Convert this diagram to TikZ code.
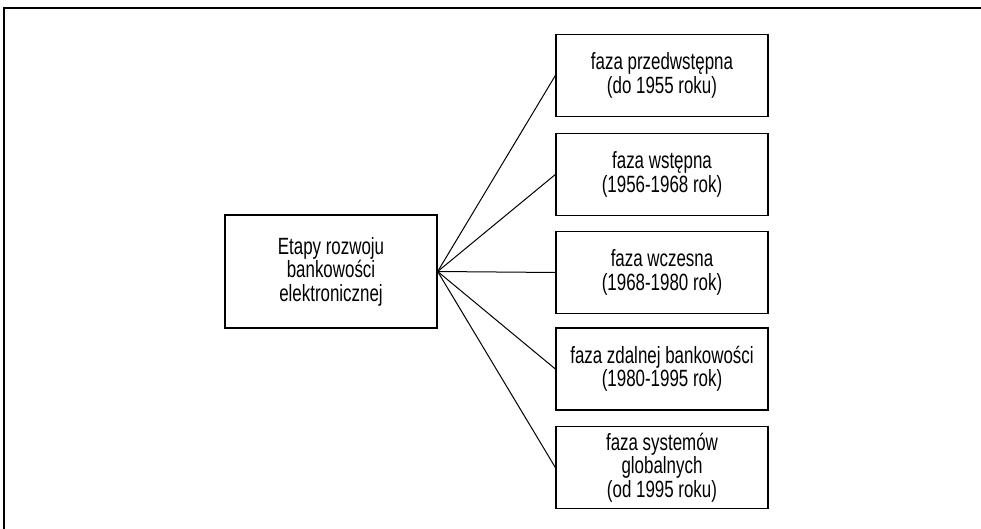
\documentclass[tikz,border=0pt]{standalone}
\usepackage{fontspec}
\setmainfont[FakeStretch=0.72]{Liberation Sans}
\begin{document}
\begin{tikzpicture}[x=1pt,y=-1pt,
  box/.style={draw=black,line width=1.3pt,align=center,inner sep=0pt,font=\fontsize{23.5}{23.5}\selectfont},
  phase/.style={box,minimum width=212pt,minimum height=82pt},
  link/.style={draw=black,line width=1pt}]
\useasboundingbox (0,0) rectangle (981,529);
\draw[line width=1.3pt] (4,530) -- (4,8) -- (982,8);
\node[box,minimum width=212pt,minimum height=113pt] (main) at (331,271.5) {Etapy rozwoju\\bankowości\\elektronicznej};
\node[phase] (p1) at (662,75.5) {faza przedwstępna\\(do 1955 roku)};
\node[phase] (p2) at (662,174.5) {faza wstępna\\(1956-1968 rok)};
\node[phase] (p3) at (662,272.5) {faza wczesna\\(1968-1980 rok)};
\node[phase] (p4) at (662,369) {faza zdalnej bankowości\\(1980-1995 rok)};
\node[phase] (p5) at (662,467.5) {faza systemów\\globalnych\\(od 1995 roku)};
\foreach \p in {p1,p2,p3,p4,p5}
  \draw[link] (main.east) -- (\p.west);
\end{tikzpicture}
\end{document}
